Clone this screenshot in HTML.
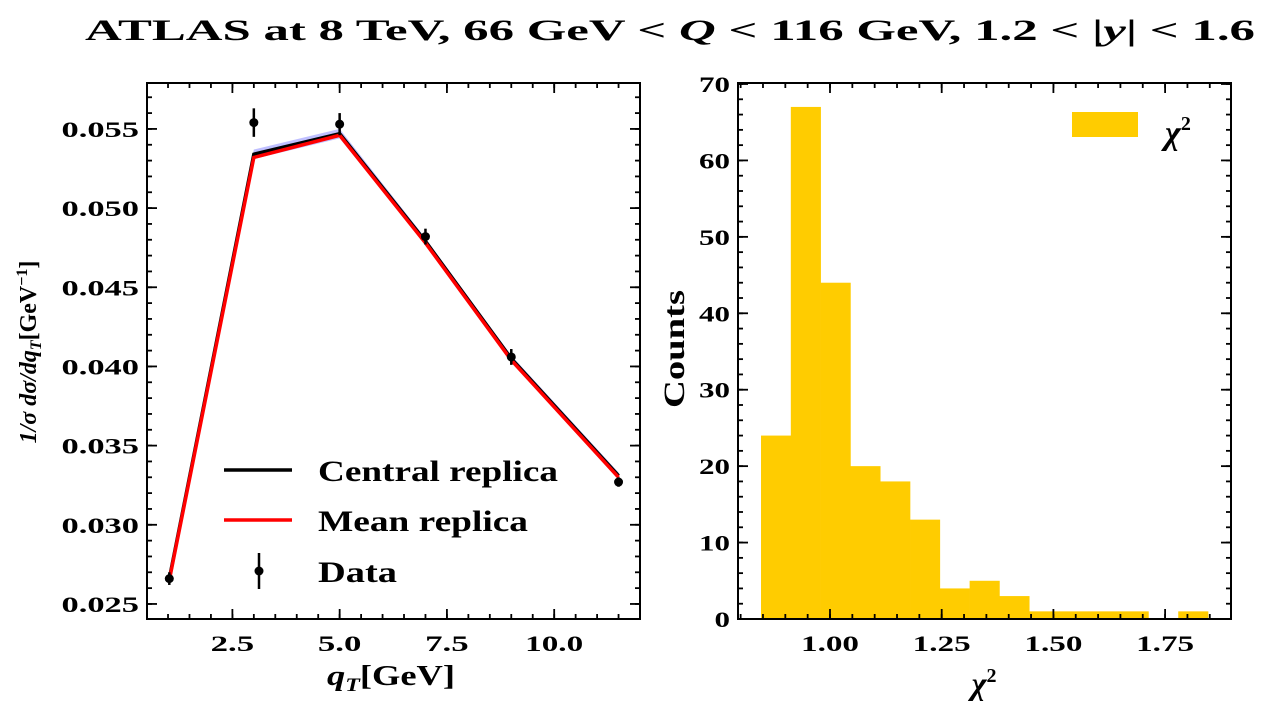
<!DOCTYPE html>
<html><head><meta charset="utf-8"><style>
body{margin:0;background:#fff}
svg text{font-family:"Liberation Serif",serif;font-weight:bold;fill:#000}
</style></head><body>
<svg width="1267" height="705" xmlns="http://www.w3.org/2000/svg">
<text x="670" y="40" text-anchor="middle" font-size="30" textLength="1170" lengthAdjust="spacingAndGlyphs">ATLAS at 8 TeV, 66 GeV &lt; <tspan font-style="italic">Q</tspan> &lt; 116 GeV, 1.2 &lt; |<tspan font-style="italic">y</tspan>| &lt; 1.6</text>
<g id="left"></g>
<g id="right"></g>
</svg>
<script>
const qT=[1.03,3.0,5.0,7.0,9.0,11.5];
const dataY=[0.0266,0.0554,0.0553,0.0482,0.0406,0.0327];
const dataErr=[0.0004,0.0009,0.0007,0.0005,0.0005,0.0003];
const centralY=[0.0266,0.0534,0.0547,0.0479,0.0405,0.0331];
const meanY=[0.0265,0.0532,0.0546,0.0478,0.0404,0.0330];
const bandErr=[0.0003,0.0003,0.0003,0.0002,0.0002,0.0002];
const xTicksL=[2.5,5.0,7.5,10.0];
const yTicksL=[0.025,0.030,0.035,0.040,0.045,0.050,0.055];
const binStart=0.8456, binWidth=0.0667;
const counts=[24,67,44,20,18,13,4,5,3,1,1,1,1,0,1];
const xTicksR=[1.00,1.25,1.50,1.75];
const yTicksR=[0,10,20,30,40,50,60,70];
const NS='http://www.w3.org/2000/svg';
function mk(p,t,a){const e=document.createElementNS(NS,t);for(const k in a)e.setAttribute(k,a[k]);p.appendChild(e);return e;}
// Left
const L=document.getElementById('left');
const lx0=147,lx1=640,ly0=83,ly1=619;
const xL=v=>lx0+(v-0.51)/(12.0-0.51)*(lx1-lx0);
const yL=v=>ly1-(v-0.02405)/(0.0579-0.02405)*(ly1-ly0);
let band='';qT.forEach((q,i)=>band+=(i?'L':'M')+xL(q)+','+yL(centralY[i]+bandErr[i]));
for(let i=qT.length-1;i>=0;i--)band+='L'+xL(qT[i])+','+yL(centralY[i]-bandErr[i]);
let e=mk(L,'path',{d:band+'Z',fill:'#8080ff','fill-opacity':0.5});

const pts=a=>a.map((v,i)=>xL(qT[i])+','+yL(v)).join(' ');
e=mk(L,'polyline',{points:pts(centralY),fill:'none',stroke:'#000','stroke-width':3.5});

e=mk(L,'polyline',{points:pts(meanY),fill:'none',stroke:'#f00','stroke-width':3.5});

qT.forEach((q,i)=>{const g=mk(L,'g',{});

mk(g,'line',{x1:xL(q),x2:xL(q),y1:yL(dataY[i]+dataErr[i]),y2:yL(dataY[i]-dataErr[i]),stroke:'#000','stroke-width':2.5});
mk(g,'circle',{cx:xL(q),cy:yL(dataY[i]),r:4.5,fill:'#000'});});
function frame(P,x0,x1,y0,y1){e=mk(P,'rect',{x:x0,y:y0,width:x1-x0,height:y1-y0,fill:'none',stroke:'#000','stroke-width':2});
}
function ticksX(P,vals,fx,y0,y1,len,lab,fmt){vals.forEach(v=>{const x=fx(v);mk(P,'line',{x1:x,x2:x,y1:y1,y2:y1-len,stroke:'#000','stroke-width':1.8});mk(P,'line',{x1:x,x2:x,y1:y0,y2:y0+len,stroke:'#000','stroke-width':1.8});
if(lab){const s=fmt(v);const t=mk(P,'text',{x:x,y:y1+32,'text-anchor':'middle','font-size':22,textLength:s.length*14.5,lengthAdjust:'spacingAndGlyphs'});t.textContent=s;}});}
function ticksY(P,vals,fy,x0,x1,len,lab,fmt){vals.forEach(v=>{const y=fy(v);mk(P,'line',{x1:x0,x2:x0+len,y1:y,y2:y,stroke:'#000','stroke-width':1.8});mk(P,'line',{x1:x1,x2:x1-len,y1:y,y2:y,stroke:'#000','stroke-width':1.8});
if(lab){const s=fmt(v);const t=mk(P,'text',{x:x0-8,y:y+8,'text-anchor':'end','font-size':22,textLength:s.length*15.5,lengthAdjust:'spacingAndGlyphs'});t.textContent=s;}});}
frame(L,lx0,lx1,ly0,ly1);
const minX=[];for(let v=0.5;v<=12;v+=0.5)if(v>0.51)minX.push(v);
ticksX(L,minX,xL,ly0,ly1,5,false);
ticksX(L,xTicksL,xL,ly0,ly1,10,true,v=>v.toFixed(1));
const minY=[];for(let v=0.025;v<0.0579;v+=0.001)minY.push(v);
ticksY(L,minY,yL,lx0,lx1,5,false);
ticksY(L,yTicksL,yL,lx0,lx1,10,true,v=>v.toFixed(3));
e=mk(L,'text',{x:391,y:685,'text-anchor':'middle','font-size':29,textLength:128,lengthAdjust:'spacingAndGlyphs'});e.innerHTML='<tspan font-style="italic">q</tspan><tspan font-style="italic" font-size="19" dy="6">T</tspan><tspan dy="-6">[GeV]</tspan>';

e=mk(L,'text',{x:0,y:0,'text-anchor':'middle','font-size':24,transform:'translate(36,352) rotate(-90)'});e.innerHTML='<tspan font-style="italic">1/σ dσ/dq</tspan><tspan font-style="italic" font-size="16" dy="5">T</tspan><tspan dy="-5">[GeV</tspan><tspan font-size="16" dy="-9">−1</tspan><tspan dy="9">]</tspan>';

// legend
const lg=mk(L,'g',{});
[['#000','Central replica',470,240],['#f00','Mean replica',520,210]].forEach(([c,t,y,w])=>{const g=mk(lg,'g',{});
mk(g,'line',{x1:224,x2:292,y1:y,y2:y,stroke:c,'stroke-width':3.5});const tx=mk(g,'text',{x:318,y:y+11,'font-size':30,textLength:w,lengthAdjust:'spacingAndGlyphs'});tx.textContent=t;});
const gd=mk(lg,'g',{});
mk(gd,'line',{x1:259,x2:259,y1:553,y2:589,stroke:'#000','stroke-width':2.5});mk(gd,'circle',{cx:259,cy:571,r:4.5,fill:'#000'});
e=mk(gd,'text',{x:318,y:582,'font-size':30,textLength:79,lengthAdjust:'spacingAndGlyphs'});e.textContent='Data';
// Right
const R=document.getElementById('right');
const rx0=738,rx1=1231,ry0=83,ry1=619;
const xR=v=>830+(v-1.0)/0.25*111.7;
const yR=v=>ry1-v/70*(ry1-84);
counts.forEach((c,i)=>{if(!c)return;const a=xR(binStart+i*binWidth),b=xR(binStart+(i+1)*binWidth);
const r=mk(R,'rect',{x:a,y:yR(c),width:b-a+0.3,height:ry1-yR(c),fill:'#ffcc00'});
});
frame(R,rx0,rx1,ry0,ry1);
const minXR=[];for(let v=0.80;v<1.93;v+=0.05)if(xR(v)>rx0+1&&xR(v)<rx1-1)minXR.push(v);
ticksX(R,minXR,xR,ry0,ry1,5,false);
ticksX(R,xTicksR,xR,ry0,ry1,10,true,v=>v.toFixed(2));
const minYR=[];for(let v=0;v<=70;v+=2)minYR.push(v);
ticksY(R,minYR,yR,rx0,rx1,5,false);
ticksY(R,yTicksR,yR,rx0,rx1,10,true,v=>String(v));
e=mk(R,'text',{x:984,y:694,'text-anchor':'middle','font-size':32,'font-style':'italic'});e.innerHTML='χ<tspan font-size="20" dy="-12" font-style="normal">2</tspan>';

e=mk(R,'text',{x:0,y:0,'text-anchor':'middle','font-size':30,transform:'translate(684,349) rotate(-90)',textLength:118,lengthAdjust:'spacingAndGlyphs'});e.textContent='Counts';

const rl=mk(R,'g',{});
mk(rl,'rect',{x:1072,y:112,width:66,height:25,fill:'#ffcc00'});
e=mk(rl,'text',{x:1165,y:144,'font-size':34,'font-style':'italic'});e.innerHTML='χ<tspan font-size="20" dy="-14" font-style="normal">2</tspan>';
</script>
</body></html>
